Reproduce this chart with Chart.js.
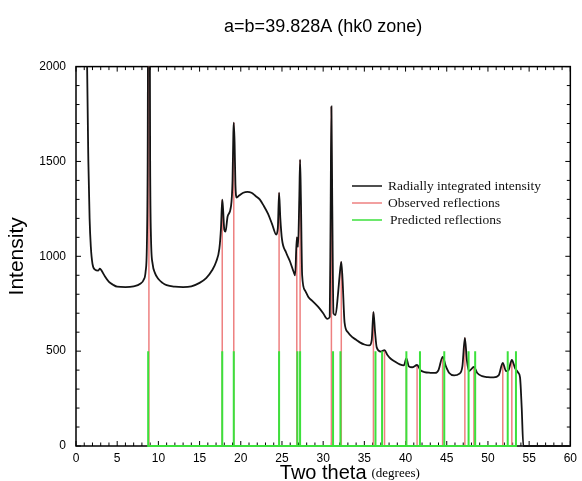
<!DOCTYPE html>
<html>
<head>
<meta charset="utf-8">
<script src="https://cdn.jsdelivr.net/npm/chart.js@4"></script>
<style>
  html, body { margin: 0; padding: 0; background: #fff; }
  #wrap { width: 582px; height: 481px; }
</style>
</head>
<body>
<div id="wrap"><canvas id="graph" width="582" height="481"></canvas></div>
<script>
"use strict";
// data
var titleText = "a=b=39.828A (hk0 zone)";

var thetaValues = [1.2, 1.35, 1.5, 1.65, 1.8, 2.0, 2.3, 2.7, 2.9, 3.1, 3.5, 4.0, 4.5, 5.0, 6.0, 7.0, 7.8, 8.2, 8.45, 8.6, 8.7, 8.8,
  8.9, 9.0, 9.1, 9.3, 9.6, 10.0, 10.5, 11.0, 12.0, 13.0, 14.0, 15.0, 15.8, 16.5, 17.0, 17.4, 17.6, 17.75, 17.85, 18.0,
  18.15, 18.4, 18.8, 19.0, 19.1, 19.15, 19.25, 19.35, 19.5, 19.8, 20.3, 20.8, 21.3, 21.8, 22.3, 22.8, 23.3, 23.8, 24.3,
  24.5, 24.65, 24.8, 25.0, 25.5, 26.0, 26.4, 26.6, 26.8, 26.95, 27.1, 27.2, 27.3, 27.45, 27.8, 28.2, 28.8, 29.4, 30.0,
  30.5, 30.8, 30.9, 31.0, 31.1, 31.25, 31.5, 31.8, 32.0, 32.2, 32.35, 32.6, 33.0, 33.5, 34.0, 34.5, 35.0, 35.6, 35.9,
  36.1, 36.3, 36.5, 37.0, 37.45, 37.8, 38.2, 38.7, 39.3, 39.8, 40.1, 40.4, 40.8, 41.4, 41.8, 42.3, 43.0, 43.6, 44.0,
  44.5, 44.9, 45.3, 45.9, 46.5, 46.9, 47.2, 47.45, 47.7, 48.3, 48.7, 49.3, 50.0, 50.7, 51.3, 51.8, 52.2, 52.5, 52.9,
  53.3, 53.7, 53.9, 54.1, 54.3, 60];
var intensityValues = [3000, 2000, 1500, 1200, 1050, 960, 930, 925, 935, 925, 895, 865, 850, 840, 838, 842, 855, 875, 920, 1050, 1500, 3000,
  3000, 1500, 1100, 960, 910, 880, 860, 848, 840, 838, 842, 860, 885, 925, 970, 1040, 1150, 1298, 1250, 1140,
  1130, 1210, 1260, 1400, 1650, 1705, 1600, 1380, 1310, 1320, 1335, 1340, 1335, 1318, 1300, 1265, 1225, 1170, 1115,
  1150, 1335, 1200, 1090, 1020, 970, 920, 900, 1100, 1050, 1300, 1509, 1300, 900, 820, 786, 760, 733, 700,
  670, 680, 1200, 1790, 1300, 700, 690, 800, 900, 971, 880, 650, 600, 575, 560, 545, 535, 530, 560,
  707, 600, 520, 498, 505, 480, 460, 445, 430, 425, 462, 420, 415, 427, 400, 390, 386, 385, 400,
  470, 420, 385, 372, 380, 420, 570, 450, 395, 417, 385, 368, 363, 362, 372, 438, 395, 400, 454,
  410, 385, 360, 200, 0, 0];

var observedTheta = [8.85, 17.75, 19.15, 24.65, 26.8, 27.2, 31.0, 32.2, 36.1, 37.45, 40.1, 41.4, 44.5, 47.2, 48.3, 51.8, 52.9];
var observedIntensity = [2000, 1298, 1705, 1335, 1100, 1509, 1790, 971, 707, 505, 462, 427, 470, 570, 417, 438, 454];

var predictedTheta = [8.76, 17.75, 19.15, 24.65, 26.87, 27.2, 31.2, 32.1, 36.35, 37.15, 40.1, 41.75, 44.7, 47.65, 48.45, 52.4, 53.4];
var predictedIntensity = [500, 500, 500, 500, 500, 500, 500, 500, 500, 500, 500, 500, 500, 500, 500, 500, 500];

var xTickStep = 5, xMinorStep = 1;
var yTickStep = 500, yMinorStep = 100;

var curveColor = "#141414";
var observedColor = "rgb(238,128,128)";
var predictedColor = "rgb(60,225,60)";

// build point lists
var curvePoints = thetaValues.map(function (t, i) { return { x: t, y: intensityValues[i] }; });
var observedPoints = [];
observedTheta.forEach(function (t, i) {
  observedPoints.push({ x: t, y: 0 }, { x: t, y: observedIntensity[i] }, { x: t, y: null });
});
// predicted: spikes joined along the zero line
var predictedPoints = [];
predictedTheta.forEach(function (t, i) {
  predictedPoints.push({ x: t - 0.001, y: 0 }, { x: t, y: predictedIntensity[i] }, { x: t + 0.001, y: 0 });
});

// box, inward ticks, legend and x title
var decorations = {
  id: "decorations",
  beforeDatasetsDraw: function (chart) {
    var ctx = chart.ctx, a = chart.chartArea;
    var xs = chart.scales.x, ys = chart.scales.y;
    ctx.save();
    ctx.strokeStyle = "#000";
    ctx.lineWidth = 1.5;
    ctx.strokeRect(a.left, a.top, a.right - a.left, a.bottom - a.top);
    ctx.lineWidth = 1;
    ctx.beginPath();
    for (var v = xs.min; v <= xs.max; v += xMinorStep) {
      var px = xs.getPixelForValue(v);
      var len = (v % xTickStep === 0) ? 5 : 3.5;
      ctx.moveTo(px, a.bottom); ctx.lineTo(px, a.bottom - len);
      ctx.moveTo(px, a.top); ctx.lineTo(px, a.top + len);
    }
    for (var w = ys.min; w <= ys.max; w += yMinorStep) {
      var py = ys.getPixelForValue(w);
      var l2 = (w % yTickStep === 0) ? 5 : 3.5;
      ctx.moveTo(a.left, py); ctx.lineTo(a.left + l2, py);
      ctx.moveTo(a.right, py); ctx.lineTo(a.right - l2, py);
    }
    ctx.stroke();
    ctx.restore();
  },
  afterDraw: function (chart) {
    var ctx = chart.ctx, a = chart.chartArea;
    ctx.save();
    // legend
    chart.data.datasets.forEach(function (ds, i) {
      var y = 186 + 17 * i;
      ctx.strokeStyle = ds.borderColor;
      ctx.lineWidth = 1.5;
      ctx.beginPath();
      ctx.moveTo(352, y); ctx.lineTo(382, y);
      ctx.stroke();
      ctx.fillStyle = "#111";
      ctx.font = "13.5px 'Liberation Serif'";
      ctx.textBaseline = "middle";
      ctx.textAlign = "left";
      ctx.fillText(ds.label, i === 2 ? 390 : 388, y);
    });
    // x axis title
    var cx = (a.left + a.right) / 2;
    ctx.fillStyle = "#000";
    ctx.textBaseline = "alphabetic";
    ctx.font = "20px 'Liberation Sans'";
    var w1 = ctx.measureText("Two theta").width;
    ctx.textAlign = "left";
    ctx.fillText("Two theta", cx - w1 / 2, 479);
    ctx.font = "13px 'Liberation Serif'";
    ctx.fillText("(degrees)", cx + w1 / 2 + 5, 477);
    ctx.restore();
  }
};

new Chart(document.getElementById("graph"), {
  type: "line",
  data: {
    datasets: [
      {
        label: "Radially integrated intensity",
        data: curvePoints,
        borderColor: curveColor,
        borderWidth: 1.8,
        pointRadius: 0,
        cubicInterpolationMode: "monotone",
        clip: { left: 0, top: 0, right: 0, bottom: 3 }
      },
      {
        label: "Observed reflections",
        data: observedPoints,
        borderColor: observedColor,
        borderWidth: 1.5,
        pointRadius: 0,
        spanGaps: false,
        order: 2,
        clip: false
      },
      {
        label: "Predicted reflections",
        data: predictedPoints,
        borderColor: predictedColor,
        borderWidth: 2,
        pointRadius: 0,
        order: -1,
        clip: false
      }
    ]
  },
  options: {
    responsive: false,
    animation: false,
    layout: { padding: { left: 0, right: 8, top: 0, bottom: 0 } },
    plugins: {
      legend: { display: false },
      tooltip: { enabled: false },
      title: {
        display: true,
        text: titleText,
        fullSize: false,
        color: "#000",
        font: { family: "'Liberation Sans'", size: 18, weight: "normal" },
        padding: { top: 16, bottom: 29 }
      }
    },
    scales: {
      x: {
        type: "linear",
        min: 0,
        max: 60,
        afterFit: function (scale) { scale.height = 35; },
        grid: { display: false, drawTicks: false },
        border: { display: false },
        ticks: {
          stepSize: xTickStep,
          padding: 5,
          color: "#000",
          font: { family: "'Liberation Sans'", size: 12 }
        }
      },
      y: {
        min: 0,
        max: 2000,
        afterFit: function (scale) { scale.width = 76; },
        grid: { display: false, drawTicks: false },
        border: { display: false },
        ticks: {
          stepSize: yTickStep,
          padding: 10,
          color: "#000",
          font: { family: "'Liberation Sans'", size: 12 },
          callback: function (value) { return String(value); }
        },
        title: {
          display: true,
          text: "Intensity",
          color: "#000",
          font: { family: "'Liberation Sans'", size: 21 },
          padding: { top: 5, bottom: 0 }
        }
      }
    }
  },
  plugins: [decorations]
});
</script>
</body>
</html>
